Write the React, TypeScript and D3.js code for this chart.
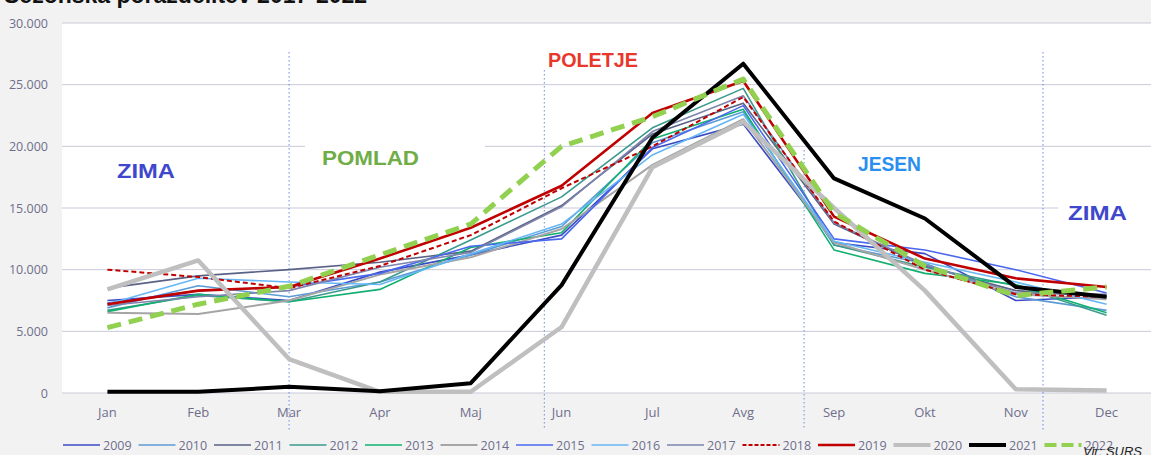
import React from "react";
import * as d3 from "d3";

const months = ["Jan", "Feb", "Mar", "Apr", "Maj", "Jun", "Jul", "Avg", "Sep", "Okt", "Nov", "Dec"];
const yTicks = [0, 5000, 10000, 15000, 20000, 25000, 30000];

const y2009 = [7500, 8000, 7500, 9800, 11200, 12800, 19800, 21800, 12200, 11300, 7500, 7800];
const y2010 = [6900, 8700, 7800, 9000, 11200, 13500, 20300, 22800, 12000, 10500, 7800, 6700];
const y2011 = [8500, 9500, 10000, 10600, 11500, 15200, 21000, 23500, 13700, 10300, 8300, 7800];
const y2012 = [6700, 7900, 7400, 9000, 12400, 15900, 21500, 24700, 12000, 10200, 8700, 6300];
const y2013 = [6600, 8000, 7400, 8400, 11800, 13000, 20600, 23000, 11600, 9700, 8800, 6500];
const y2014 = [6500, 6400, 7500, 9600, 11000, 13300, 18500, 22200, 12200, 10000, 8000, 7600];
const y2015 = [7300, 8300, 8600, 9700, 11900, 12500, 19900, 23300, 12500, 11600, 10000, 8100];
const y2016 = [7200, 9300, 9000, 8800, 11300, 13700, 19300, 22600, 12300, 10600, 9000, 7200];
const y2017 = [7100, 7800, 8300, 10200, 11400, 15100, 21200, 24100, 13800, 10400, 8100, 8000];
const y2018 = [10000, 9400, 8500, 10300, 12800, 16600, 20000, 24000, 13900, 10000, 8000, 7800];
const y2019 = [7200, 8300, 8600, 10900, 13400, 16800, 22700, 25300, 14300, 10900, 9300, 8600];
const y2020 = [8400, 10750, 2750, 100, 100, 5350, 18300, 22000, 15000, 8300, 300, 200];
const y2021 = [100, 100, 500, 150, 800, 8750, 20700, 26700, 17400, 14150, 8600, 7800];
const y2022 = [5300, 7200, 8650, 11200, 13700, 20000, 22400, 25450, 14600, 10300, 7900, 8600];

const seriesNames = ["2009", "2010", "2011", "2012", "2013", "2014", "2015", "2016", "2017", "2018", "2019", "2020", "2021", "2022"];
const seriesValues = [y2009, y2010, y2011, y2012, y2013, y2014, y2015, y2016, y2017, y2018, y2019, y2020, y2021, y2022];

// season boundaries in category-index units
const seasonBreaks = [2, 4.81, 7.67, 10.3];
const seasonBreakTops = [52, 70, 150, 52];

const styles: { color: string; width: number; dash?: string }[] = [
  { color: "#3b4bc4", width: 1.6 },
  { color: "#5b9bd5", width: 1.6 },
  { color: "#5a6285", width: 1.6 },
  { color: "#3a9a8c", width: 1.6 },
  { color: "#12b070", width: 1.6 },
  { color: "#a5a5a5", width: 2 },
  { color: "#4a68ee", width: 1.6 },
  { color: "#66b6f5", width: 1.6 },
  { color: "#7d84ae", width: 1.6 },
  { color: "#c00000", width: 2, dash: "5,3" },
  { color: "#c00000", width: 2.6 },
  { color: "#bfbfbf", width: 4.5 },
  { color: "#000000", width: 4 },
  { color: "#92d050", width: 5, dash: "14,8" },
];

const W = 1151;
const H = 455;
const plotL = 62;
const plotR = 1152;
const plotT = 23;
const plotB = 393;

export default function App() {
  const xi = d3.scaleLinear().domain([-0.5, months.length - 0.5]).range([plotL, plotR]);
  const y = d3.scaleLinear().domain([0, 30000]).range([plotB, plotT]);
  const line = d3
    .line<number>()
    .x((_, i) => xi(i))
    .y((v) => y(v));
  const fmt = (v: number) => (v === 0 ? "0" : d3.format(",")(v).replace(/,/g, "."));
  const font = "'Open Sans', 'Liberation Sans', sans-serif";
  const tickColor = "#6e6e8c";
  const labelFont = "'Liberation Sans', Arial, sans-serif";

  const legendText0 = 103;
  const legendStep = 75.5;

  return (
    <svg width={W} height={H} style={{ position: "absolute", left: 0, top: 0 }} xmlns="http://www.w3.org/2000/svg">
      <rect x={0} y={0} width={W} height={H} fill="#f2f2f2" />
      <text x={4} y={3} fontFamily={labelFont} fontWeight="bold" fontSize={23} fill="#111">
        Sezonska porazdelitev 2017-2022
      </text>
      <rect x={plotL} y={plotT} width={plotR - plotL} height={plotB - plotT} fill="#ffffff" />
      {yTicks.map((t) => (
        <g key={t}>
          <line x1={plotL} x2={plotR} y1={y(t)} y2={y(t)} stroke="#c9c9d9" strokeWidth={1} />
          <text x={48} y={y(t) + 4.5} textAnchor="end" fontFamily={font} fontSize={12.5} fill={tickColor}>
            {fmt(t)}
          </text>
        </g>
      ))}
      {months.map((m, i) => (
        <text key={m} x={xi(i)} y={417} textAnchor="middle" fontFamily={font} fontSize={13} fill={tickColor}>
          {m}
        </text>
      ))}
      {/* label boxes that hide gridlines */}
      <rect x={305} y={136} width={180} height={40} fill="#ffffff" />
      <rect x={1058} y={190} width={94} height={40} fill="#ffffff" />
      {seasonBreaks.map((b, i) => (
        <line
          key={i}
          x1={xi(b)}
          x2={xi(b)}
          y1={seasonBreakTops[i]}
          y2={430}
          stroke="#4b72e0"
          strokeWidth={1}
          strokeDasharray="1.5,2.5"
          opacity={0.8}
        />
      ))}
      {seriesValues.map((vals, k) => (
        <path
          key={seriesNames[k]}
          d={line(vals) || ""}
          fill="none"
          stroke={styles[k].color}
          strokeWidth={styles[k].width}
          strokeDasharray={styles[k].dash}
          strokeLinejoin="round"
        />
      ))}
      <text x={117} y={178} fontFamily={labelFont} fontWeight="bold" fontSize={21} fill="#3f48cc" textLength={58} lengthAdjust="spacingAndGlyphs">ZIMA</text>
      <text x={322} y={165} fontFamily={labelFont} fontWeight="bold" fontSize={21} fill="#70ad47" textLength={97} lengthAdjust="spacingAndGlyphs">POMLAD</text>
      <text x={548} y={67} fontFamily={labelFont} fontWeight="bold" fontSize={21} fill="#e8372c" textLength={90} lengthAdjust="spacingAndGlyphs">POLETJE</text>
      <text x={858} y={171} fontFamily={labelFont} fontWeight="bold" fontSize={21} fill="#2a8ff0" textLength={63} lengthAdjust="spacingAndGlyphs">JESEN</text>
      <text x={1068} y={220} fontFamily={labelFont} fontWeight="bold" fontSize={21} fill="#3f48cc" textLength={59} lengthAdjust="spacingAndGlyphs">ZIMA</text>
      {seriesNames.map((n, k) => {
        const tx = legendText0 + k * legendStep;
        return (
          <g key={n}>
            <line
              x1={tx - 40}
              x2={tx - 3}
              y1={445}
              y2={445}
              stroke={styles[k].color}
              strokeWidth={Math.min(styles[k].width, 4)}
              strokeDasharray={styles[k].dash ? (k === 13 ? "12,5" : "4,2") : undefined}
            />
            <text x={tx} y={449.5} fontFamily={font} fontSize={12.5} fill={tickColor}>
              {n}
            </text>
          </g>
        );
      })}
      <text x={1083} y={456} fontFamily={labelFont} fontStyle="italic" fontSize={13} fill="#222">
        Vir: SURS
      </text>
    </svg>
  );
}
